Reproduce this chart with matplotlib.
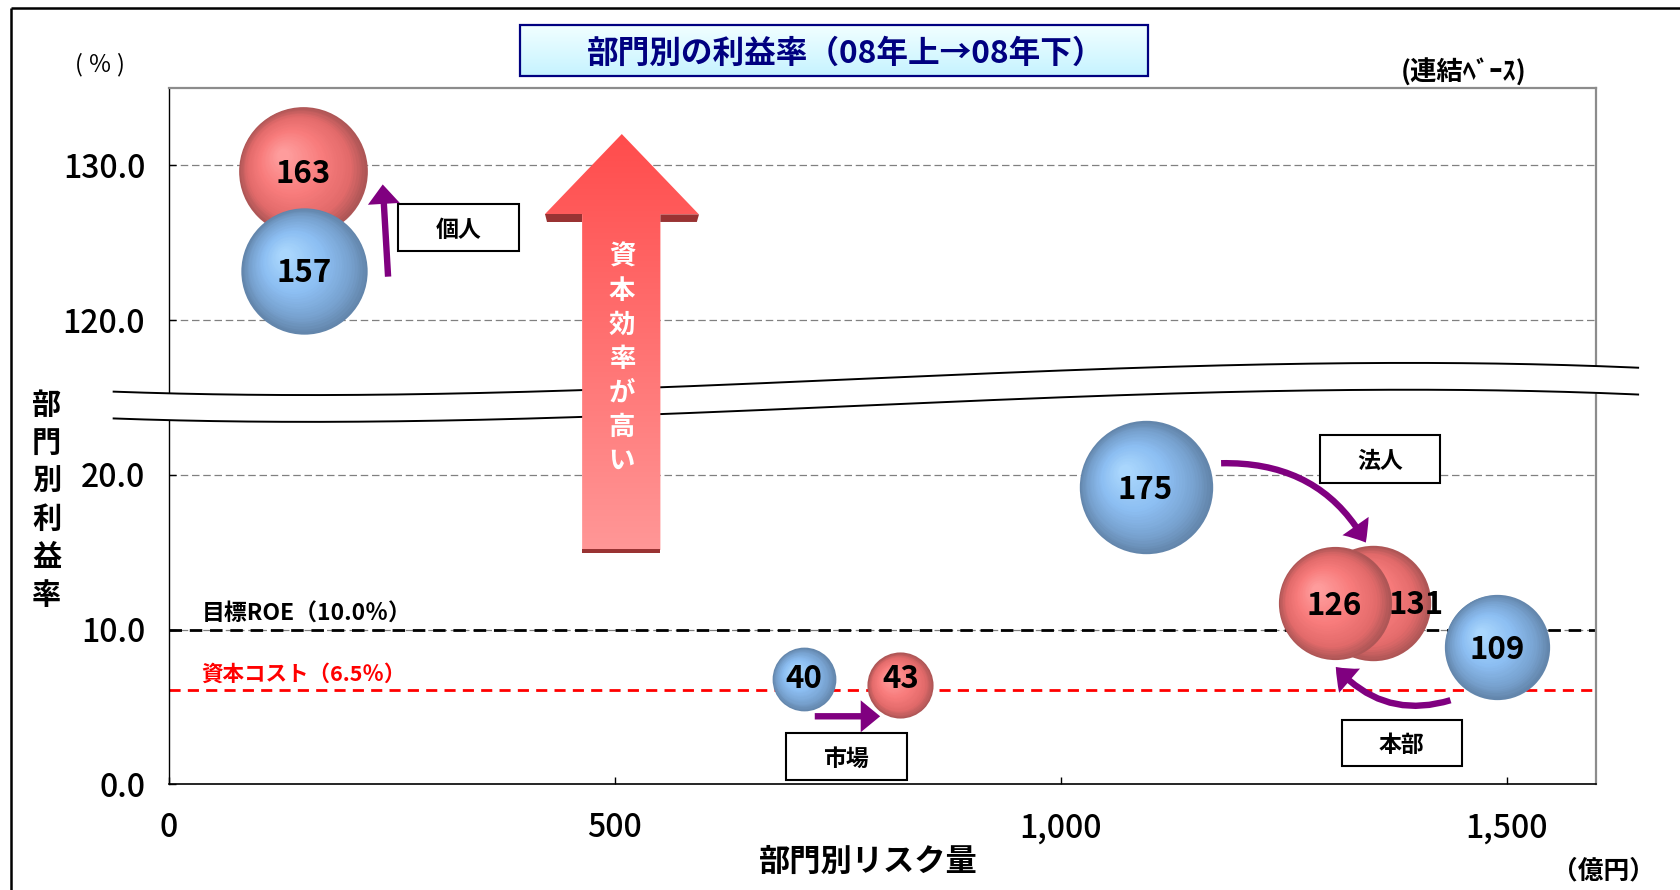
import numpy as np
import matplotlib
matplotlib.use('Agg')
import matplotlib.pyplot as plt
from matplotlib.patches import Rectangle, Polygon, FancyArrowPatch
from matplotlib.path import Path
from matplotlib.transforms import offset_copy
from matplotlib.colors import LinearSegmentedColormap

plt.rcParams['font.family'] = ['Noto Sans CJK JP', 'DejaVu Sans']

# ---------------- data ----------------
segments = ['個人', '法人', '市場', '本部']
# 08年上 (blue bubbles)
risk_h1 = [152, 1095, 712, 1489]
rate_h1 = [123.2, 19.2, 6.8, 8.9]
size_h1 = [157, 175, 40, 109]
# 08年下 (red bubbles)
risk_h2 = [150, 1350, 820, 1307]
rate_h2 = [129.65, 11.7, 6.4, 11.7]
size_h2 = [163, 131, 43, 126]

roe_target = 10.0
capital_cost_line = 6.1
ytick_values = [0, 10, 20, 120, 130]
ytick_labels = ['0.0', '10.0', '20.0', '120.0', '130.0']
xtick_values = [0, 500, 1000, 1500]
xtick_labels = ['0', '500', '1,000', '1,500']


def ybreak(v):
    """broken y axis: values above the break are shifted down by 90"""
    v = np.asarray(v, dtype=float)
    return np.where(v > 60, v - 90, v)


# ---------------- figure ----------------
W, H = 1568.0, 830.0
fig = plt.figure(figsize=(16.81, 8.90), dpi=100)
fig.patch.set_facecolor('white')

ax = fig.add_axes([157.5 / W, 1 - 731.6 / H, (1488.7 - 157.5) / W, (731.6 - 82) / H])
ax.set_facecolor('white')

# grid lines
for v in ytick_values[1:]:
    ax.axhline(float(ybreak(v)), color='#808080', lw=0.9, dashes=(6, 3), zorder=1)
# reference lines
ax.axhline(roe_target, color='black', lw=2.0, dashes=(4.5, 2.8), zorder=2)
ax.axhline(capital_cost_line, color='#FF0000', lw=2.0, dashes=(4.0, 2.6), zorder=2)

# bubbles
K = 52.7
red_cmap = LinearSegmentedColormap.from_list(
    'r', [(0, '#FFA4A4'), (0.5, '#F87C7C'), (0.82, '#E26A6A'), (1, '#AE5656')])
blue_cmap = LinearSegmentedColormap.from_list(
    'b', [(0, '#B0DCFF'), (0.5, '#8CBEF2'), (0.82, '#77A1CE'), (1, '#6386AC')])

bubbles = []
for x, y, s in zip(risk_h1, rate_h1, size_h1):
    bubbles.append((x, y, s, blue_cmap))
for x, y, s in zip(risk_h2, rate_h2, size_h2):
    bubbles.append((x, y, s, red_cmap))
bubbles.sort(key=lambda b: -b[2])

label_offsets = {131: (31, -1.5), 40: (0, 0.5), 43: (0, 4.5)}

z = 3.0
for x, y, s, cmap in bubbles:
    s_full = K * s
    r_pt = np.sqrt(s_full) / 2.0
    fs = np.linspace(1.0, 0.1, 30)
    for f in fs:
        dx = -(1 - f) * r_pt * 0.34
        dy = (1 - f) * r_pt * 0.27
        tr = offset_copy(ax.transData, fig=fig, x=dx, y=dy, units='points')
        ax.scatter([x], [float(ybreak(y))], s=s_full * f * f, color=cmap(f),
                   transform=tr, linewidths=0, zorder=z)
        z += 0.001
    z += 0.01

for x, y, s, cmap in bubbles:
    off = label_offsets.get(s, (0, -2))
    ax.annotate(str(s), (x, float(ybreak(y))), xytext=off, textcoords='offset points',
                ha='center', va='center', fontsize=22.5, fontweight='bold',
                color='black', zorder=10)

ax.set_xlim(0, 1600)
ax.set_ylim(0, 45)
ax.set_xticks(xtick_values)
ax.set_xticklabels(xtick_labels)
ax.set_yticks(ybreak(ytick_values))
ax.set_yticklabels(ytick_labels)
ax.tick_params(axis='both', direction='in', length=5, width=1, labelsize=23, colors='black')
ax.tick_params(axis='y', pad=17)
ax.tick_params(axis='x', pad=20)
for lab in ax.get_xticklabels() + ax.get_yticklabels():
    lab.set_fontweight('medium')
for sp in ['top', 'right']:
    ax.spines[sp].set_color('#8C8C8C')
    ax.spines[sp].set_linewidth(1.6)
ax.spines['left'].set_color('black')
ax.spines['left'].set_linewidth(1.0)
ax.spines['bottom'].set_color('black')
ax.spines['bottom'].set_linewidth(1.2)

# ---------------- overlay (annotations) ----------------
ov = fig.add_axes([0, 0, 1, 1], zorder=5)
ov.patch.set_alpha(0)
ov.axis('off')

# outer frame (left & top)
ov.plot([10, 10], [7.5, H + 5], color='black', lw=1.8, solid_capstyle='butt')
ov.plot([10, W + 5], [7.5, 7.5], color='black', lw=1.8, solid_capstyle='butt')

# axis break band
bx = np.array([106, 300, 540, 650, 1026, 1300, 1527])
by = np.array([365, 369, 364, 359, 345, 338, 343])
coef = np.polyfit(bx, by, 3)
xx = np.linspace(106, 1528, 400)
top = np.polyval(coef, xx)
ov.fill_between(xx, top, top + 25, color='white', zorder=1, lw=0)
ov.plot(xx, top, color='black', lw=1.4, zorder=1.1)
ov.plot(xx, top + 25, color='black', lw=1.4, zorder=1.1)

# big red arrow
arrow_pts = [(543, 513), (543, 200), (508, 200), (580, 125), (652, 200), (616, 200), (616, 513)]
poly = Polygon(arrow_pts, closed=True, facecolor='none', edgecolor='none', zorder=2)
ov.add_patch(poly)
grad = np.linspace(0, 1, 256).reshape(-1, 1)
acmap = LinearSegmentedColormap.from_list('a', ['#FF4C4C', '#FF9797'])
im = ov.imshow(grad, cmap=acmap, extent=(508, 652, 513, 125), aspect='auto',
               zorder=2, interpolation='bicubic')
im.set_clip_path(poly)
for pts in ([(508, 200), (543, 200), (543, 207), (510, 207)],
            [(616, 200), (652, 200), (650, 207), (616, 207)],
            [(543, 512), (616, 512), (616, 516), (543, 516)]):
    ov.add_patch(Polygon(pts, closed=True, facecolor='#993333', edgecolor='none', zorder=2.1))
for i, ch in enumerate('資本効率が高い'):
    ov.text(580, 240 + i * 31.7, ch, ha='center', va='center', fontsize=19,
            fontweight='bold', color='white', zorder=2.2)

# title box
tb = Rectangle((485, 23.3), 586, 47.6, facecolor='none', edgecolor='#000080', lw=1.6, zorder=3)
ov.add_patch(tb)
tgrad = np.linspace(0, 1, 64).reshape(-1, 1)
tcmap = LinearSegmentedColormap.from_list('t', ['#F2FFFF', '#C6F3FF'])
im2 = ov.imshow(tgrad, cmap=tcmap, extent=(485, 1071, 70.9, 23.3), aspect='auto', zorder=2.9)
im2.set_clip_path(tb)
ov.text(789, 50, '部門別の利益率（08年上→08年下）', ha='center', va='center',
        fontsize=22.8, fontweight='bold', color='#000080', zorder=3.1)

# label boxes
boxes = {'個人': (371.5, 190.6, 484, 234),
         '法人': (1231, 406, 1343.6, 450),
         '市場': (733, 683.8, 845.7, 727.6),
         '本部': (1251.6, 671, 1363.6, 714.6)}
for name in segments:
    x0, y0, x1, y1 = boxes[name]
    ov.add_patch(Rectangle((x0, y0), x1 - x0, y1 - y0, facecolor='white',
                           edgecolor='black', lw=1.5, zorder=3))
    ov.text((x0 + x1) / 2, (y0 + y1) / 2 + 2.5, name, ha='center', va='center',
            fontsize=16.5, fontweight='bold', color='black', zorder=3.1)

# purple arrows (quadratic Bezier paths)
purple = '#800080'
astyle = 'simple,head_width=23,head_length=14,tail_width=4.6'


def qpath(p0, c, p1):
    return Path([p0, c, p1], [Path.MOVETO, Path.CURVE3, Path.CURVE3])


arrow_paths = [
    qpath((362, 258), (359.5, 215), (357, 172)),
    qpath((1139, 432), (1232, 430), (1274, 506)),
    qpath((760, 668), (790, 668), (821, 668)),
    qpath((1353, 653), (1290, 672), (1246, 622)),
]
for p in arrow_paths:
    ov.add_patch(FancyArrowPatch(path=p, arrowstyle=astyle, mutation_scale=1,
                                 color=purple, lw=0, zorder=4))

# reference line labels
ov.text(188, 573, '目標ROE（10.0％）', ha='left', va='center', fontsize=16.5,
        fontweight='bold', color='black', zorder=4)
ov.text(188, 629, '資本コスト（6.5％）', ha='left', va='center', fontsize=15.5,
        fontweight='bold', color='#FF0000', zorder=4)

# unit labels
ov.text(93, 60, '( ％ )', ha='center', va='center', fontsize=17, color='black')
ov.text(1365, 68, '(連結ﾍﾞｰｽ)', ha='center', va='center', fontsize=19,
        fontweight='bold', color='black')
ov.text(1496, 812, '（億円）', ha='center', va='center', fontsize=18.5,
        fontweight='bold', color='black')

# axis titles
ov.text(810, 804, '部門別リスク量', ha='center', va='center', fontsize=22.5,
        fontweight='bold', color='black')
for i, ch in enumerate('部門別利益率'):
    ov.text(43.5, 378 + i * 35.3, ch, ha='center', va='center', fontsize=21,
            fontweight='bold', color='black')

ov.set_xlim(0, W)
ov.set_ylim(H, 0)

fig.savefig('out.png', dpi=100, facecolor='white')
